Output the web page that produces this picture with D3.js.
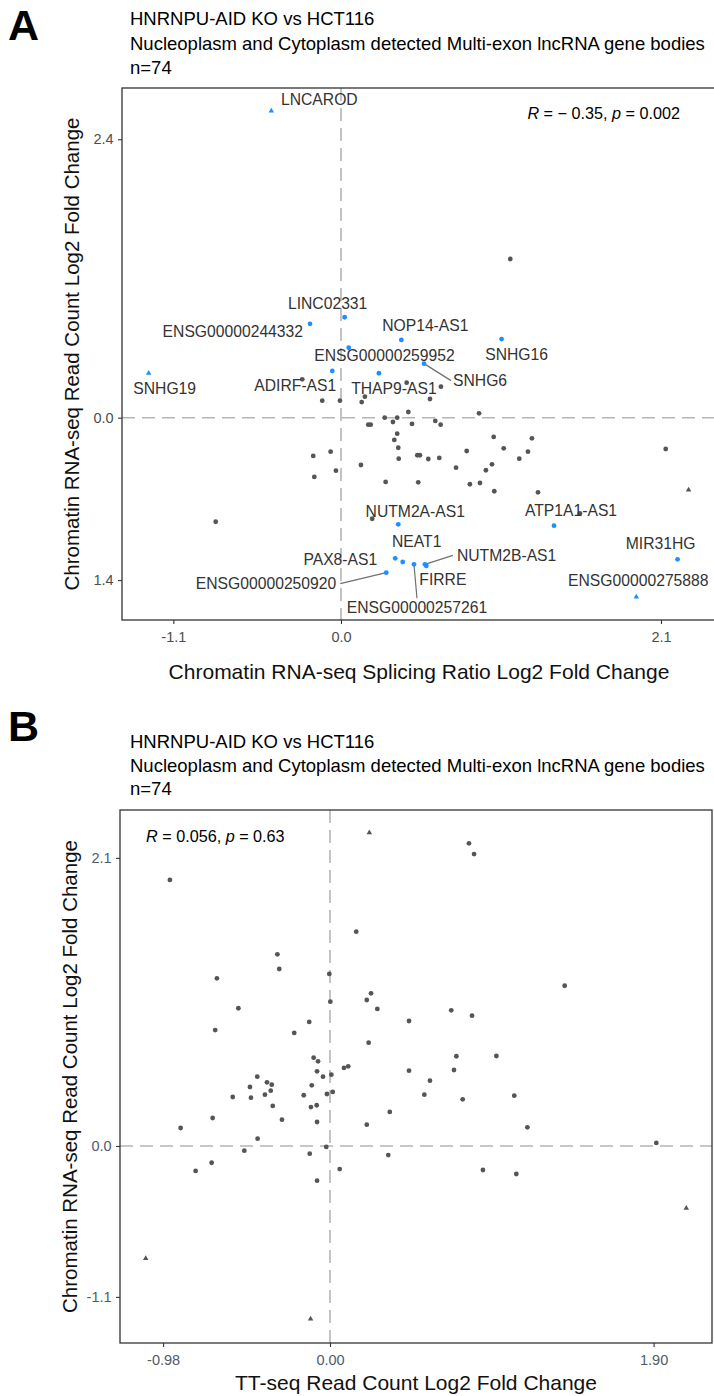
<!DOCTYPE html>
<html><head><meta charset="utf-8">
<script src="https://cdn.jsdelivr.net/npm/d3@7"></script>
<style>
body{margin:0;background:#fff;}
svg text{font-family:"Liberation Sans",Arial,sans-serif;}
</style></head>
<body><svg id="c" width="714" height="1396"></svg>
<script>
// ---------------- DATA ----------------
const titleLines = ["HNRNPU-AID KO vs HCT116","Nucleoplasm and Cytoplasm detected Multi-exon lncRNA gene bodies","n=74"];

// Panel A: highlighted (labelled) genes
const aHitNames = ["LNCAROD","LINC02331","ENSG00000244332","NOP14-AS1","ENSG00000259952","SNHG16","SNHG19","ADIRF-AS1","THAP9-AS1","SNHG6","NUTM2A-AS1","NEAT1","PAX8-AS1","ENSG00000250920","ENSG00000257261","NUTM2B-AS1","FIRRE","ATP1A1-AS1","MIR31HG","ENSG00000275888"];
const aHitX = [-0.457,0.024,-0.203,0.396,0.051,1.054,-1.262,-0.057,0.249,0.545,0.376,0.405,0.356,0.297,0.479,0.551,0.560,1.398,2.209,1.938];
const aHitY = [2.644,0.866,0.809,0.670,0.603,0.678,0.383,0.403,0.383,0.466,-0.919,-1.244,-1.212,-1.336,-1.264,-1.264,-1.278,-0.931,-1.221,-1.546];
const aHitOut = [1,0,0,0,0,0,1,0,0,0,0,0,0,0,0,0,0,0,0,1];

// Panel A: other genes
const aOtherX = [-0.254,-0.123,-0.007,0.136,0.157,0.431,0.442,0.287,0.341,0.369,0.179,0.195,0.369,0.350,0.376,0.379,-0.182,-0.068,0.131,-0.033,-0.175,0.293,-0.822,0.205,0.656,0.584,0.906,0.466,0.619,0.654,1.002,1.253,1.068,1.227,0.825,1.170,0.501,0.518,0.573,0.645,0.755,0.991,0.951,0.507,0.846,0.912,1.006,1.293,2.131,2.281,1.568,1.111];
const aOtherY = [0.331,0.147,0.147,0.135,0.181,0.302,0.049,0.000,-0.037,0.000,-0.060,-0.060,-0.138,-0.192,-0.259,-0.353,-0.330,-0.293,-0.408,-0.457,-0.511,-0.554,-0.897,-0.871,0.267,0.161,0.038,-0.054,-0.028,-0.060,-0.166,-0.178,-0.264,-0.293,-0.287,-0.353,-0.324,-0.324,-0.356,-0.347,-0.431,-0.402,-0.453,-0.557,-0.574,-0.563,-0.634,-0.643,-0.270,-0.623,-0.824,1.368];
const aOtherOut = aOtherX.map((v,i)=> i===49 ? 1 : 0);

const aXTickVals = [-1.1,0,2.1], aXTickLabels = ["-1.1","0.0","2.1"];
const aYTickVals = [2.4,0,-1.4], aYTickLabels = ["2.4","0.0","1.4"];
const aStat = {r:"\u2212 0.35", p:"0.002"};

// Panel B
const bX = [0.231,-0.940,0.154,-0.309,-0.298,-0.664,-0.004,0.816,0.846,1.378,0.241,0.216,0.002,-0.538,0.278,-0.122,-0.674,-0.210,0.227,0.464,-0.096,-0.070,-0.076,-0.041,0.008,0.082,0.107,0.464,-0.427,-0.370,-0.342,-0.470,-0.348,-0.382,-0.571,-0.464,-0.107,-0.154,-0.018,0.016,-0.336,-0.112,-0.078,-0.282,-0.689,-0.076,0.216,0.351,-0.877,-0.425,-0.503,-0.119,-0.022,0.342,-0.695,-0.789,0.057,-0.076,0.712,0.834,0.742,0.977,0.728,0.587,0.554,0.779,1.082,1.159,1.916,0.898,1.094,2.092,-1.082,-0.114];
const bY = [2.284,1.939,1.562,1.397,1.290,1.222,1.254,2.206,2.128,1.168,1.113,1.064,1.052,1.004,0.999,0.904,0.845,0.824,0.753,0.911,0.644,0.617,0.544,0.505,0.520,0.569,0.581,0.549,0.505,0.464,0.447,0.430,0.403,0.374,0.357,0.352,0.442,0.370,0.379,0.394,0.292,0.284,0.297,0.192,0.204,0.175,0.155,0.248,0.131,0.053,-0.034,-0.056,-0.007,-0.066,-0.122,-0.182,-0.168,-0.253,0.989,0.950,0.654,0.656,0.554,0.476,0.374,0.340,0.367,0.136,0.022,-0.175,-0.204,-0.454,-0.819,-1.261];
const bOut = bX.map((v,i)=> (i===0||i>=71) ? 1 : 0);
const bXTickVals = [-0.98,0,1.9], bXTickLabels = ["-0.98","0.00","1.90"];
const bYTickVals = [2.1,0,-1.1], bYTickLabels = ["2.1","0.0","-1.1"];
const bStat = {r:"0.056", p:"0.63"};

// ---------------- LAYOUT (label placement, not data) ----------------
const aLabelLayout = {
 "LNCAROD":{dx:48,dy:-11,a:"middle"},
 "LINC02331":{dx:-17,dy:-14,a:"middle"},
 "ENSG00000244332":{dx:-7,dy:8,a:"end"},
 "NOP14-AS1":{dx:24,dy:-14,a:"middle"},
 "ENSG00000259952":{dx:106,dy:8,a:"end"},
 "SNHG16":{dx:15,dy:15,a:"middle"},
 "SNHG19":{dx:16,dy:15,a:"middle"},
 "ADIRF-AS1":{dx:4,dy:15,a:"end"},
 "THAP9-AS1":{dx:15,dy:15,a:"middle"},
 "SNHG6":{dx:29,dy:17,a:"start",sx:27,sy:17},
 "NUTM2A-AS1":{dx:17,dy:-13,a:"middle"},
 "NEAT1":{dx:14,dy:-20,a:"middle"},
 "PAX8-AS1":{dx:-18,dy:1,a:"end"},
 "ENSG00000250920":{dx:-50,dy:11,a:"end",sx:-46,sy:11},
 "ENSG00000257261":{dx:3,dy:43,a:"middle",sx:3,sy:34},
 "NUTM2B-AS1":{dx:32,dy:-9,a:"start",sx:28,sy:-9},
 "FIRRE":{dx:-7,dy:14,a:"start"},
 "ATP1A1-AS1":{dx:17,dy:-15,a:"middle"},
 "MIR31HG":{dx:-17,dy:-16,a:"middle"},
 "ENSG00000275888":{dx:2,dy:-17,a:"middle"}
};

const svg = d3.select("#c");
const GRAY = "#555555", BLUE = "#1E8FFF", DASH = "#b5b5b5";

function header(letter, yLetter, x0, baselines){
  svg.append("text").attr("x",8).attr("y",yLetter).attr("font-size",43).attr("font-weight","bold").attr("fill","#000").text(letter);
  titleLines.forEach((t,i)=>svg.append("text").attr("x",x0).attr("y",baselines[i]).attr("font-size",18.5).attr("fill","#000").text(t));
}

function panel(cfg){
  const g = svg.append("g");
  const x = d3.scaleLinear().domain(cfg.xDom).range([cfg.left,cfg.right]);
  const y = d3.scaleLinear().domain(cfg.yDom).range([cfg.bottom,cfg.top]);
  g.append("line").attr("x1",x(0)).attr("x2",x(0)).attr("y1",cfg.top).attr("y2",cfg.bottom).attr("stroke",DASH).attr("stroke-width",1.6).attr("stroke-dasharray","13,7");
  g.append("line").attr("x1",cfg.left).attr("x2",cfg.right).attr("y1",y(0)).attr("y2",y(0)).attr("stroke",DASH).attr("stroke-width",1.6).attr("stroke-dasharray","13,7");
  const xa = g.append("g").attr("transform",`translate(0,${cfg.bottom})`)
    .call(d3.axisBottom(x).tickValues(cfg.xTicks).tickFormat((d,i)=>cfg.xLabels[i]).tickSize(4).tickSizeOuter(0));
  const ya = g.append("g").attr("transform",`translate(${cfg.left},0)`)
    .call(d3.axisLeft(y).tickValues(cfg.yTicks).tickFormat((d,i)=>cfg.yLabels[i]).tickSize(4).tickSizeOuter(0));
  [xa,ya].forEach(a=>{
    a.select(".domain").remove();
    a.selectAll(".tick line").attr("stroke","#333").attr("stroke-width",1.1);
    a.selectAll(".tick text").attr("fill",cfg.tickColor).attr("font-size",14.5).attr("font-family","Liberation Sans, Arial, sans-serif");
  });
  xa.selectAll(".tick text").attr("dy","1.0em");
  ya.selectAll(".tick text").attr("dx","-0.1em");
  g.append("rect").attr("x",cfg.left).attr("y",cfg.top).attr("width",cfg.right-cfg.left).attr("height",cfg.bottom-cfg.top)
    .attr("fill","none").attr("stroke","#333").attr("stroke-width",1.3);
  g.append("text").attr("x",(cfg.left+cfg.right)/2).attr("y",cfg.xTitleY).attr("text-anchor","middle").attr("font-size",21).attr("fill","#111").text(cfg.xTitle);
  g.append("text").attr("transform",`translate(${cfg.yTitleX},${(cfg.top+cfg.bottom)/2}) rotate(-90)`).attr("text-anchor","middle").attr("font-size",20.5).attr("fill","#111").text(cfg.yTitle);
  return {g,x,y};
}

function drawPoints(g, x, y, xs, ys, outs, color){
  xs.forEach((v,i)=>{
    if(outs[i]){
      g.append("path").attr("d",d3.symbol(d3.symbolTriangle,13)()).attr("transform",`translate(${x(v)},${y(ys[i])})`).attr("fill",color);
    } else {
      g.append("circle").attr("cx",x(v)).attr("cy",y(ys[i])).attr("r",2.4).attr("fill",color);
    }
  });
}

function statText(g, px, py, anchor, st){
  const t = g.append("text").attr("x",px).attr("y",py).attr("text-anchor",anchor).attr("font-size",16.2).attr("fill","#000").attr("dominant-baseline","central");
  t.append("tspan").attr("font-style","italic").text("R");
  t.append("tspan").text(" = " + st.r + ", ");
  t.append("tspan").attr("font-style","italic").text("p");
  t.append("tspan").text(" = " + st.p);
}

// ---------------- PANEL A ----------------
header("A", 40, 130, [25, 50, 74]);
const A = panel({left:122,right:716,top:88,bottom:620,xDom:[-1.437,2.461],yDom:[-1.744,2.842],
  xTicks:aXTickVals,xLabels:aXTickLabels,yTicks:aYTickVals,yLabels:aYTickLabels,tickColor:"#4D4D4D",
  xTitle:"Chromatin RNA-seq Splicing Ratio Log2 Fold Change",yTitle:"Chromatin RNA-seq Read Count Log2 Fold Change",
  xTitleY:679,yTitleX:79});
drawPoints(A.g, A.x, A.y, aOtherX, aOtherY, aOtherOut, GRAY);
aHitNames.forEach((n,i)=>{
  const L = aLabelLayout[n]; if(L.sx===undefined) return;
  const px=A.x(aHitX[i]), py=A.y(aHitY[i]);
  A.g.append("line").attr("x1",px).attr("y1",py).attr("x2",px+L.sx).attr("y2",py+L.sy).attr("stroke","#707070").attr("stroke-width",1.2);
});
drawPoints(A.g, A.x, A.y, aHitX, aHitY, aHitOut, BLUE);
aHitNames.forEach((n,i)=>{
  const L = aLabelLayout[n];
  A.g.append("text").attr("x",A.x(aHitX[i])+L.dx).attr("y",A.y(aHitY[i])+L.dy).attr("text-anchor",L.a)
    .attr("dominant-baseline","central").attr("font-size",15.7).attr("fill","#333").text(n);
});
statText(A.g, 680, 113, "end", aStat);

// ---------------- PANEL B ----------------
header("B", 741, 130, [748, 772, 795]);
const B = panel({left:120,right:712,top:810,bottom:1343,xDom:[-1.233,2.243],yDom:[-1.436,2.449],
  xTicks:bXTickVals,xLabels:bXTickLabels,yTicks:bYTickVals,yLabels:bYTickLabels,tickColor:"#4f5b6b",
  xTitle:"TT-seq Read Count Log2 Fold Change",yTitle:"Chromatin RNA-seq Read Count Log2 Fold Change",
  xTitleY:1390,yTitleX:77});
drawPoints(B.g, B.x, B.y, bX, bY, bOut, GRAY);
statText(B.g, 146, 836, "start", bStat);
</script></body></html>
